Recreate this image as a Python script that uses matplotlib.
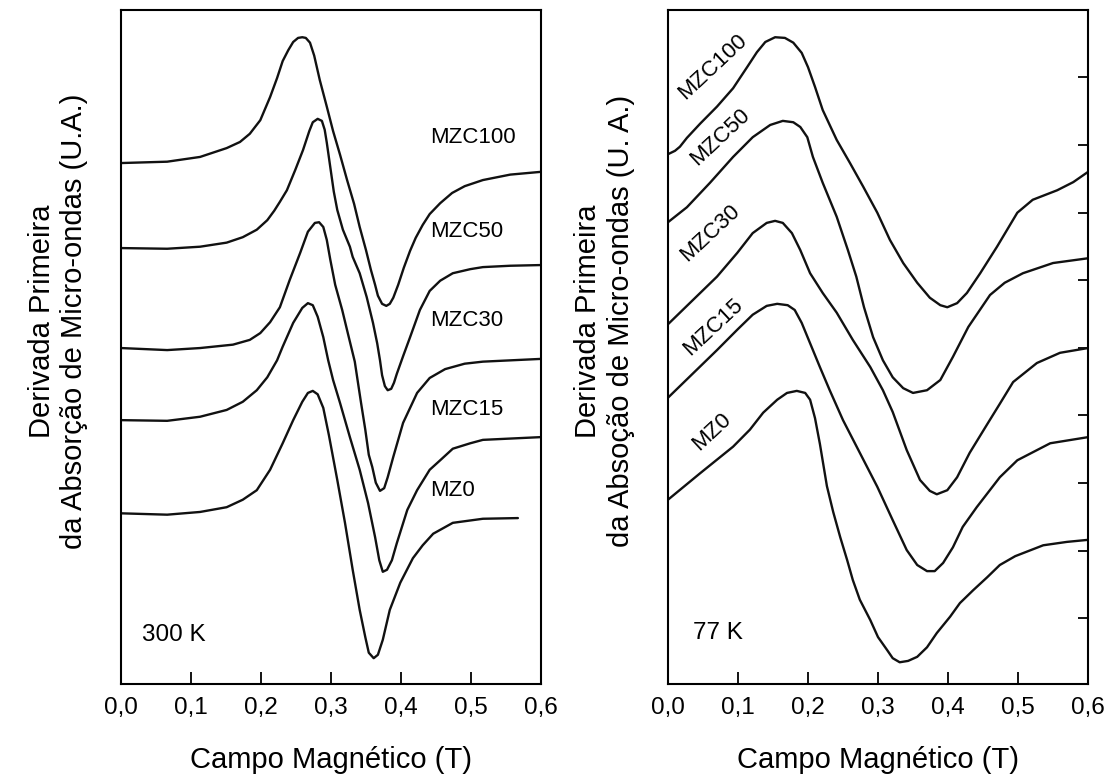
import matplotlib.pyplot as plt

plt.rcParams["font.family"] = ["Liberation Sans", "DejaVu Sans"]

# --- 300 K: campo (T) e sinal (u.a., curvas ja deslocadas na vertical) ---
h300_mzc100 = [0.000, 0.066, 0.113, 0.151, 0.170, 0.184, 0.199, 0.213, 0.223, 0.231, 0.239, 0.246, 0.253,
               0.259, 0.264, 0.270, 0.276, 0.284, 0.294, 0.303, 0.313, 0.323, 0.333, 0.341, 0.350, 0.357,
               0.363, 0.367, 0.373, 0.379, 0.384, 0.389, 0.396, 0.404, 0.413, 0.421, 0.431, 0.441, 0.456,
               0.473, 0.491, 0.517, 0.556, 0.599]
s300_mzc100 = [7.66, 7.68, 7.75, 7.88, 7.97, 8.09, 8.29, 8.63, 8.91, 9.16, 9.32, 9.44, 9.50,
               9.51, 9.50, 9.43, 9.24, 8.88, 8.49, 8.13, 7.78, 7.41, 7.06, 6.72, 6.38, 6.09,
               5.87, 5.71, 5.59, 5.56, 5.59, 5.68, 5.87, 6.12, 6.37, 6.56, 6.75, 6.91, 7.07,
               7.22, 7.32, 7.41, 7.49, 7.53]

h300_mzc50 = [0.000, 0.066, 0.113, 0.151, 0.174, 0.194, 0.209, 0.219, 0.227, 0.237, 0.249, 0.260, 0.269,
              0.274, 0.281, 0.287, 0.291, 0.294, 0.299, 0.304, 0.309, 0.317, 0.327, 0.331, 0.341, 0.351,
              0.360, 0.366, 0.370, 0.373, 0.377, 0.381, 0.386, 0.390, 0.394, 0.403, 0.413, 0.427, 0.441,
              0.456, 0.474, 0.499, 0.517, 0.556, 0.599]
s300_mzc50 = [6.41, 6.40, 6.43, 6.49, 6.57, 6.68, 6.82, 6.96, 7.09, 7.26, 7.56, 7.85, 8.13,
              8.26, 8.31, 8.28, 8.15, 7.96, 7.60, 7.24, 6.97, 6.68, 6.43, 6.28, 6.04, 5.69,
              5.31, 5.01, 4.76, 4.54, 4.38, 4.32, 4.34, 4.43, 4.56, 4.82, 5.10, 5.50, 5.78,
              5.93, 6.04, 6.10, 6.13, 6.15, 6.16]

h300_mzc30 = [0.000, 0.066, 0.113, 0.160, 0.184, 0.199, 0.213, 0.227, 0.241, 0.256, 0.267, 0.277, 0.283,
              0.289, 0.294, 0.299, 0.306, 0.316, 0.324, 0.334, 0.339, 0.343, 0.349, 0.354, 0.359, 0.364,
              0.370, 0.376, 0.381, 0.389, 0.403, 0.423, 0.441, 0.463, 0.491, 0.517, 0.599]
s300_mzc30 = [4.94, 4.91, 4.94, 4.99, 5.06, 5.16, 5.32, 5.54, 5.94, 6.34, 6.65, 6.78, 6.79,
              6.72, 6.53, 6.24, 5.87, 5.50, 5.16, 4.74, 4.40, 4.13, 3.74, 3.37, 3.19, 2.96,
              2.84, 2.88, 3.04, 3.34, 3.84, 4.28, 4.50, 4.63, 4.71, 4.74, 4.78]

h300_mzc15 = [0.000, 0.066, 0.113, 0.151, 0.174, 0.194, 0.209, 0.223, 0.231, 0.246, 0.259, 0.267, 0.274,
              0.281, 0.289, 0.296, 0.303, 0.313, 0.327, 0.341, 0.353, 0.363, 0.369, 0.374, 0.380, 0.387,
              0.394, 0.409, 0.423, 0.441, 0.456, 0.474, 0.499, 0.517, 0.599]
s300_mzc15 = [3.88, 3.87, 3.93, 4.03, 4.15, 4.32, 4.51, 4.76, 4.96, 5.31, 5.53, 5.60, 5.57,
              5.40, 5.10, 4.76, 4.47, 4.13, 3.63, 3.15, 2.66, 2.16, 1.82, 1.65, 1.68, 1.82,
              2.07, 2.56, 2.85, 3.15, 3.29, 3.46, 3.54, 3.59, 3.63]

h300_mz0 = [0.000, 0.066, 0.113, 0.151, 0.174, 0.194, 0.213, 0.231, 0.246, 0.259, 0.267, 0.274, 0.281,
            0.289, 0.297, 0.309, 0.320, 0.331, 0.341, 0.349, 0.354, 0.361, 0.367, 0.374, 0.384, 0.399,
            0.417, 0.431, 0.446, 0.474, 0.517, 0.567]
s300_mz0 = [2.51, 2.49, 2.53, 2.60, 2.71, 2.85, 3.15, 3.54, 3.88, 4.15, 4.28, 4.31, 4.26,
            4.06, 3.66, 3.00, 2.37, 1.68, 1.09, 0.69, 0.46, 0.38, 0.43, 0.65, 1.09, 1.49,
            1.85, 2.04, 2.21, 2.37, 2.43, 2.44]

# --- 77 K ---
h77_mzc100 = [0.000, 0.010, 0.017, 0.027, 0.046, 0.070, 0.093, 0.113, 0.127, 0.139, 0.153, 0.167,
              0.179, 0.191, 0.200, 0.210, 0.221, 0.241, 0.260, 0.279, 0.299, 0.317, 0.336, 0.356,
              0.374, 0.389, 0.399, 0.413, 0.427, 0.446, 0.470, 0.499, 0.521, 0.556, 0.579, 0.600]
s77_mzc100 = [7.79, 7.84, 7.90, 8.03, 8.24, 8.49, 8.76, 9.07, 9.29, 9.44, 9.51, 9.50,
              9.43, 9.28, 9.07, 8.78, 8.44, 8.00, 7.66, 7.31, 6.93, 6.53, 6.19, 5.90,
              5.68, 5.57, 5.54, 5.60, 5.75, 6.04, 6.43, 6.93, 7.12, 7.26, 7.38, 7.53]

h77_mzc50 = [0.000, 0.027, 0.060, 0.093, 0.121, 0.146, 0.164, 0.179, 0.189, 0.199, 0.207, 0.221,
             0.241, 0.257, 0.269, 0.280, 0.293, 0.307, 0.321, 0.336, 0.350, 0.370, 0.389, 0.407,
             0.429, 0.460, 0.481, 0.507, 0.550, 0.600]
s77_mzc50 = [6.79, 7.01, 7.37, 7.75, 8.04, 8.22, 8.28, 8.26, 8.19, 8.04, 7.75, 7.37,
             6.87, 6.38, 5.99, 5.54, 5.10, 4.76, 4.51, 4.35, 4.28, 4.32, 4.47, 4.81,
             5.25, 5.72, 5.90, 6.04, 6.19, 6.26]

h77_mzc30 = [0.000, 0.036, 0.070, 0.099, 0.121, 0.141, 0.153, 0.164, 0.177, 0.189, 0.203, 0.221,
             0.241, 0.264, 0.289, 0.307, 0.321, 0.341, 0.360, 0.374, 0.384, 0.399, 0.413, 0.431,
             0.456, 0.474, 0.493, 0.527, 0.560, 0.600]
s77_mzc30 = [5.29, 5.65, 5.99, 6.34, 6.63, 6.78, 6.81, 6.78, 6.63, 6.38, 6.04, 5.75,
             5.46, 5.06, 4.66, 4.32, 4.00, 3.44, 3.00, 2.84, 2.79, 2.85, 3.04, 3.40,
             3.82, 4.12, 4.44, 4.72, 4.87, 4.94]

h77_mzc15 = [0.000, 0.036, 0.070, 0.099, 0.121, 0.141, 0.156, 0.171, 0.181, 0.191, 0.203, 0.217,
             0.231, 0.250, 0.274, 0.299, 0.321, 0.341, 0.356, 0.370, 0.381, 0.393, 0.407, 0.421,
             0.441, 0.474, 0.499, 0.546, 0.600]
s77_mzc15 = [4.21, 4.57, 4.91, 5.21, 5.43, 5.56, 5.59, 5.57, 5.50, 5.31, 5.01, 4.66,
             4.32, 3.88, 3.40, 2.90, 2.41, 1.97, 1.75, 1.66, 1.66, 1.78, 2.01, 2.31,
             2.60, 3.04, 3.29, 3.54, 3.63]

h77_mz0 = [0.000, 0.046, 0.093, 0.117, 0.136, 0.156, 0.170, 0.184, 0.196, 0.203, 0.210, 0.217,
           0.227, 0.236, 0.246, 0.256, 0.264, 0.274, 0.289, 0.300, 0.313, 0.321, 0.331, 0.343,
           0.356, 0.370, 0.384, 0.403, 0.417, 0.436, 0.456, 0.474, 0.496, 0.536, 0.570, 0.600]
s77_mz0 = [2.71, 3.10, 3.49, 3.74, 3.99, 4.18, 4.28, 4.31, 4.28, 4.18, 3.91, 3.53,
           2.91, 2.53, 2.16, 1.82, 1.53, 1.24, 0.94, 0.69, 0.50, 0.38, 0.32, 0.34,
           0.40, 0.54, 0.75, 0.99, 1.19, 1.38, 1.57, 1.75, 1.88, 2.04, 2.09, 2.12]

samples = ["MZC100", "MZC50", "MZC30", "MZC15", "MZ0"]
curves_300 = [(h300_mzc100, s300_mzc100), (h300_mzc50, s300_mzc50), (h300_mzc30, s300_mzc30),
              (h300_mzc15, s300_mzc15), (h300_mz0, s300_mz0)]
curves_77 = [(h77_mzc100, s77_mzc100), (h77_mzc50, s77_mzc50), (h77_mzc30, s77_mzc30),
             (h77_mzc15, s77_mzc15), (h77_mz0, s77_mz0)]

# rotulos das amostras (campo, sinal)
lab300_x = [0.441, 0.441, 0.441, 0.441, 0.441]
lab300_y = [8.04, 6.66, 5.35, 4.03, 2.85]
lab77_x = [0.064, 0.074, 0.060, 0.064, 0.063]
lab77_y = [9.07, 8.04, 6.63, 5.25, 3.71]

xticks = [0.0, 0.1, 0.2, 0.3, 0.4, 0.5, 0.6]
xtick_labels = ["0,0", "0,1", "0,2", "0,3", "0,4", "0,5", "0,6"]
yticks_77 = [0.97, 1.96, 2.96, 3.95, 4.94, 5.94, 6.93, 7.93, 8.93]

fig = plt.figure(figsize=(11.15, 7.83), dpi=100)
ax1 = fig.add_axes([0.1085, 0.1264, 0.3767, 0.8608])
ax2 = fig.add_axes([0.5991, 0.1264, 0.3767, 0.8608])

for ax, curves in ((ax1, curves_300), (ax2, curves_77)):
    for h, s in curves:
        ax.plot(h, s, color="#111111", lw=1.7, solid_joinstyle="round", solid_capstyle="round")
    ax.set_xlim(0, 0.6)
    ax.set_ylim(0, 9.91)
    ax.set_xticks(xticks)
    ax.set_xticklabels(xtick_labels, fontsize=17.5)
    ax.tick_params(axis="x", direction="in", length=9, width=1.3, pad=9)
    for sp in ax.spines.values():
        sp.set_linewidth(1.5)
    ax.set_xlabel("Campo Magnético (T)", fontsize=21, labelpad=20)

ax1.set_yticks([])
ax2.set_yticks(yticks_77)
ax2.yaxis.tick_right()
ax2.tick_params(axis="y", direction="in", length=7, width=1.3, labelright=False)

for name, x, y in zip(samples, lab300_x, lab300_y):
    ax1.text(x, y, name, fontsize=16, va="center", ha="left")
for name, x, y in zip(samples, lab77_x, lab77_y):
    ax2.text(x, y, name, fontsize=16, va="center", ha="center", rotation=43, rotation_mode="anchor")

ax1.text(0.03, 0.72, "300 K", fontsize=17.5, va="center", ha="left")
ax2.text(0.036, 0.75, "77 K", fontsize=17.5, va="center", ha="left")

fig.text(0.052, 0.59, "Derivada Primeira\nda Absorção de Micro-ondas (U.A.)",
         fontsize=21, rotation=90, ha="center", va="center", linespacing=1.2)
fig.text(0.542, 0.59, "Derivada Primeira\nda Absoção de Micro-ondas (U. A.)",
         fontsize=21, rotation=90, ha="center", va="center", linespacing=1.2)

fig.savefig("out.png", dpi=100)
